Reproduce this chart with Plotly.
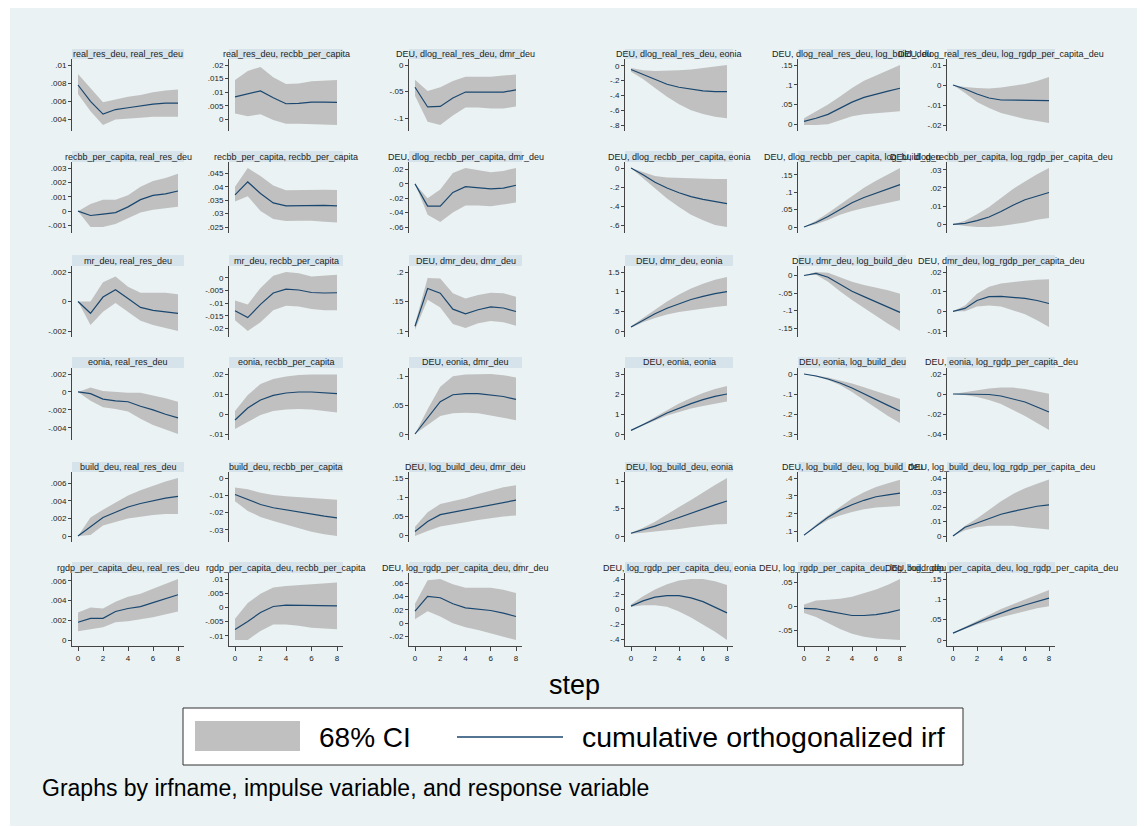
import plotly.graph_objects as go

W, H = 1145, 827
steps = [0, 1, 2, 3, 4, 5, 6, 7, 8]
x_ticks = [0, 2, 4, 6, 8]

# ---------------- panel titles (irfname, impulse, response) ----------------
titles_r1 = ["real_res_deu, real_res_deu", "real_res_deu, recbb_per_capita",
             "DEU, dlog_real_res_deu, dmr_deu", "DEU, dlog_real_res_deu, eonia",
             "DEU, dlog_real_res_deu, log_build_deu", "DEU, dlog_real_res_deu, log_rgdp_per_capita_deu"]
titles_r2 = ["recbb_per_capita, real_res_deu", "recbb_per_capita, recbb_per_capita",
             "DEU, dlog_recbb_per_capita, dmr_deu", "DEU, dlog_recbb_per_capita, eonia",
             "DEU, dlog_recbb_per_capita, log_build_deu", "DEU, dlog_recbb_per_capita, log_rgdp_per_capita_deu"]
titles_r3 = ["mr_deu, real_res_deu", "mr_deu, recbb_per_capita",
             "DEU, dmr_deu, dmr_deu", "DEU, dmr_deu, eonia",
             "DEU, dmr_deu, log_build_deu", "DEU, dmr_deu, log_rgdp_per_capita_deu"]
titles_r4 = ["eonia, real_res_deu", "eonia, recbb_per_capita",
             "DEU, eonia, dmr_deu", "DEU, eonia, eonia",
             "DEU, eonia, log_build_deu", "DEU, eonia, log_rgdp_per_capita_deu"]
titles_r5 = ["build_deu, real_res_deu", "build_deu, recbb_per_capita",
             "DEU, log_build_deu, dmr_deu", "DEU, log_build_deu, eonia",
             "DEU, log_build_deu, log_build_deu", "DEU, log_build_deu, log_rgdp_per_capita_deu"]
titles_r6 = ["rgdp_per_capita_deu, real_res_deu", "rgdp_per_capita_deu, recbb_per_capita",
             "DEU, log_rgdp_per_capita_deu, dmr_deu", "DEU, log_rgdp_per_capita_deu, eonia",
             "DEU, log_rgdp_per_capita_deu, log_build_deu", "DEU, log_rgdp_per_capita_deu, log_rgdp_per_capita_deu"]

# ---------------- cumulative orthogonalized irf with 68% CI ----------------
# row 1
irf_11 = [.0078, .0060, .0046, .0051, .0053, .0055, .0057, .0058, .0058]
lo_11 = [.0068, .0049, .0034, .0040, .0041, .0042, .0043, .0043, .0043]
hi_11 = [.0090, .0075, .0059, .0062, .0065, .0067, .0070, .0072, .0073]
yt_11 = [.004, .006, .008, .01]

irf_12 = [.0083, .0095, .0105, .0080, .0058, .0059, .0064, .0064, .0063]
lo_12 = [.0022, .0012, .0019, -.0002, -.0015, -.0015, -.0017, -.0018, -.0020]
hi_12 = [.0145, .0178, .0193, .0155, .0130, .0132, .0140, .0143, .0145]
yt_12 = [0, .005, .01, .015, .02]

irf_13 = [-.042, -.079, -.078, -.062, -.051, -.051, -.052, -.051, -.047]
lo_13 = [-.058, -.107, -.113, -.095, -.080, -.080, -.082, -.082, -.078]
hi_13 = [-.028, -.049, -.042, -.030, -.022, -.022, -.022, -.020, -.018]
yt_13 = [-.1, -.05, 0]

irf_14 = [-.05, -.12, -.19, -.25, -.29, -.32, -.34, -.35, -.35]
lo_14 = [-.08, -.18, -.30, -.42, -.52, -.60, -.65, -.69, -.71]
hi_14 = [-.03, -.06, -.07, -.07, -.06, -.05, -.03, -.01, .01]
yt_14 = [-.8, -.6, -.4, -.2, 0]

irf_15 = [.007, .015, .025, .040, .056, .068, .077, .084, .091]
lo_15 = [-.002, -.002, 0, .010, .020, .025, .028, .031, .033]
hi_15 = [.015, .032, .050, .070, .092, .110, .124, .137, .150]
yt_15 = [0, .05, .1, .15]

irf_16 = [0, -.0020, -.0045, -.0065, -.0075, -.0076, -.0077, -.0078, -.0078]
lo_16 = [0, -.0040, -.0085, -.0115, -.0140, -.0155, -.0170, -.0180, -.0190]
hi_16 = [0, -.0010, -.0015, -.0017, -.0012, -.0005, .0005, .0020, .0040]
yt_16 = [-.02, -.01, 0, .01]

# row 2
irf_21 = [0, -.0003, -.0002, -.0001, .0003, .0008, .0011, .0012, .0014]
lo_21 = [0, -.0011, -.0011, -.0009, -.0005, -.0001, .0001, .0002, .0003]
hi_21 = [0, .0005, .0008, .0008, .0011, .0017, .0021, .0023, .0026]
yt_21 = [-.001, 0, .001, .002, .003]

irf_22 = [.0370, .0418, .0375, .0340, .0329, .0330, .0332, .0331, .0329]
lo_22 = [.0345, .0365, .0310, .0280, .0272, .0273, .0273, .0270, .0267]
hi_22 = [.0400, .0470, .0440, .0405, .0387, .0388, .0389, .0389, .0388]
yt_22 = [.025, .03, .035, .04, .045]

irf_23 = [0, -.031, -.031, -.012, -.004, -.005, -.007, -.006, -.002]
lo_23 = [0, -.043, -.053, -.040, -.030, -.030, -.031, -.029, -.026]
hi_23 = [0, -.020, -.008, .015, .022, .019, .016, .018, .022]
yt_23 = [-.06, -.04, -.02, 0, .02]

irf_24 = [0, -.07, -.15, -.21, -.26, -.30, -.33, -.355, -.375]
lo_24 = [0, -.10, -.21, -.32, -.41, -.49, -.55, -.60, -.62]
hi_24 = [0, -.04, -.085, -.10, -.105, -.11, -.115, -.115, -.115]
yt_24 = [-.6, -.4, -.2, 0]

irf_25 = [0, .013, .030, .050, .070, .085, .098, .110, .122]
lo_25 = [0, .008, .020, .035, .046, .055, .062, .070, .077]
hi_25 = [0, .018, .040, .065, .090, .113, .133, .152, .170]
yt_25 = [0, .05, .1, .15]

irf_26 = [0, .0005, .0020, .0040, .0070, .0105, .0135, .0155, .0175]
lo_26 = [0, -.0010, -.0015, -.0015, -.0010, 0, .0010, .0025, .0035]
hi_26 = [0, .0020, .0055, .0095, .0145, .0195, .0235, .0275, .0310]
yt_26 = [0, .01, .02, .03]

# row 3
irf_31 = [0, -.0008, .0003, .0008, .0002, -.0004, -.0006, -.0007, -.0008]
lo_31 = [0, -.0016, -.0007, -.0001, -.0007, -.0013, -.0016, -.0018, -.0020]
hi_31 = [0, 0, .0013, .0017, .0010, .0006, .0006, .0006, .0005]
yt_31 = [-.002, 0, .002]

irf_32 = [-.0130, -.0157, -.0105, -.0060, -.0045, -.0048, -.0058, -.0060, -.0059]
lo_32 = [-.0168, -.0210, -.0175, -.0128, -.0110, -.0113, -.0123, -.0128, -.0128]
hi_32 = [-.0090, -.0105, -.0040, .0008, .0023, .0018, .0005, .0007, .0012]
yt_32 = [-.02, -.015, -.01, -.005, 0]

irf_33 = [.108, .172, .164, .137, .129, .136, .141, .139, .133]
lo_33 = [.102, .153, .140, .112, .105, .113, .117, .115, .109]
hi_33 = [.112, .190, .189, .164, .155, .161, .165, .164, .158]
yt_33 = [.1, .15, .2]

irf_34 = [.10, .28, .44, .58, .70, .80, .88, .95, 1.00]
lo_34 = [.08, .22, .33, .42, .48, .53, .57, .61, .64]
hi_34 = [.12, .33, .55, .75, .93, 1.08, 1.20, 1.30, 1.37]
yt_34 = [0, .5, 1, 1.5]

irf_35 = [0, .006, -.005, -.025, -.045, -.060, -.075, -.090, -.105]
lo_35 = [0, .002, -.018, -.045, -.070, -.093, -.115, -.137, -.158]
hi_35 = [0, .010, .008, -.005, -.018, -.027, -.034, -.042, -.052]
yt_35 = [-.15, -.1, -.05, 0]

irf_36 = [0, .0015, .0055, .0075, .0076, .0072, .0066, .0055, .0040]
lo_36 = [0, 0, .0025, .0030, .0025, .0005, -.0015, -.0045, -.0080]
hi_36 = [0, .0030, .0090, .0125, .0142, .0150, .0155, .0160, .0163]
yt_36 = [-.01, 0, .01, .02]

# row 4
irf_41 = [0, -.0002, -.0008, -.0010, -.0011, -.0016, -.0020, -.0025, -.0029]
lo_41 = [0, -.0010, -.0017, -.0019, -.0022, -.0030, -.0037, -.0042, -.0047]
hi_41 = [0, .0005, .0001, 0, -.0001, -.0001, -.0004, -.0007, -.0011]
yt_41 = [-.004, -.002, 0, .002]

irf_42 = [-.0030, .0030, .0070, .0093, .0105, .0110, .0110, .0105, .0102]
lo_42 = [-.0075, -.0040, -.0005, .0015, .0023, .0025, .0022, .0015, .0008]
hi_42 = [.0015, .0095, .0150, .0175, .0188, .0195, .0197, .0197, .0197]
yt_42 = [-.01, 0, .01, .02]

irf_43 = [0, .028, .056, .068, .070, .070, .068, .065, .060]
lo_43 = [0, .015, .031, .036, .037, .036, .033, .028, .024]
hi_43 = [0, .043, .082, .100, .103, .104, .104, .102, .098]
yt_43 = [0, .05, .1]

irf_44 = [.18, .45, .75, 1.05, 1.30, 1.52, 1.72, 1.88, 2.00]
lo_44 = [.16, .42, .68, .92, 1.10, 1.27, 1.40, 1.52, 1.62]
hi_44 = [.20, .50, .85, 1.20, 1.52, 1.80, 2.05, 2.25, 2.40]
yt_44 = [0, 1, 2, 3]

irf_45 = [0, -.010, -.025, -.045, -.070, -.100, -.128, -.157, -.185]
lo_45 = [0, -.013, -.030, -.055, -.090, -.130, -.170, -.210, -.245]
hi_45 = [0, -.007, -.018, -.032, -.048, -.066, -.085, -.105, -.125]
yt_45 = [-.3, -.2, -.1, 0]

irf_46 = [0, 0, 0, -.0005, -.0020, -.0050, -.0080, -.0130, -.0180]
lo_46 = [0, -.0010, -.0030, -.0060, -.0100, -.0160, -.0220, -.0290, -.0360]
hi_46 = [0, .0020, .0040, .0055, .0065, .0065, .0050, .0025, .0002]
yt_46 = [-.04, -.02, 0, .02]

# row 5
irf_51 = [0, .0011, .0021, .0027, .0033, .0037, .0040, .0043, .0045]
lo_51 = [0, .0001, .0012, .0016, .0020, .0022, .0024, .0025, .0025]
hi_51 = [0, .0021, .0030, .0038, .0046, .0052, .0057, .0062, .0066]
yt_51 = [0, .002, .004, .006]

irf_52 = [-.0095, -.0125, -.0153, -.0172, -.0185, -.0198, -.0210, -.0220, -.0230]
lo_52 = [-.0135, -.0190, -.0225, -.0248, -.0270, -.0290, -.0310, -.0325, -.0335]
hi_52 = [-.0055, -.0065, -.0085, -.0098, -.0105, -.0110, -.0115, -.0120, -.0125]
yt_52 = [-.03, -.02, -.01, 0]

irf_53 = [.010, .036, .054, .060, .066, .074, .080, .086, .092]
lo_53 = [-.002, .011, .023, .029, .034, .040, .045, .049, .052]
hi_53 = [.022, .060, .082, .090, .097, .108, .118, .126, .131]
yt_53 = [0, .05, .1, .15]

irf_54 = [.05, .11, .18, .26, .34, .42, .50, .57, .64]
lo_54 = [.04, .06, .08, .10, .13, .16, .19, .21, .22]
hi_54 = [.06, .15, .26, .40, .53, .66, .80, .93, 1.06]
yt_54 = [0, .5, 1]

irf_55 = [.080, .130, .180, .220, .250, .275, .295, .305, .315]
lo_55 = [.075, .125, .165, .190, .210, .225, .235, .240, .243]
hi_55 = [.080, .140, .190, .240, .285, .320, .350, .370, .390]
yt_55 = [.1, .2, .3, .4]

irf_56 = [0, .0060, .0090, .0120, .0150, .0170, .0190, .0205, .0215]
lo_56 = [0, .0040, .0060, .0070, .0072, .0070, .0060, .0050, .0045]
hi_56 = [0, .0070, .0120, .0180, .0240, .0290, .0330, .0360, .0390]
yt_56 = [0, .01, .02, .03, .04]

# row 6
irf_61 = [.0018, .0022, .0022, .0029, .0032, .0034, .0038, .0042, .0046]
lo_61 = [.0009, .0011, .0013, .0018, .0019, .0021, .0023, .0026, .0029]
hi_61 = [.0028, .0033, .0032, .0039, .0044, .0047, .0052, .0057, .0062]
yt_61 = [0, .002, .004, .006]

irf_62 = [-.0078, -.0050, -.0018, .0003, .0008, .0007, .0005, .0005, .0005]
lo_62 = [-.0115, -.0115, -.0083, -.0060, -.0060, -.0065, -.0072, -.0075, -.0077]
hi_62 = [-.0040, .0015, .0048, .0070, .0075, .0078, .0082, .0085, .0088]
yt_62 = [-.01, -.005, 0, .005, .01]

irf_63 = [.018, .040, .038, .029, .023, .021, .019, .015, .010]
lo_63 = [.006, .018, .010, 0, -.006, -.010, -.014, -.020, -.025]
hi_63 = [.029, .064, .066, .058, .053, .053, .053, .050, .045]
yt_63 = [-.02, 0, .02, .04, .06]

irf_64 = [.04, .11, .16, .18, .18, .15, .10, .03, -.05]
lo_64 = [.03, .05, .05, .03, -.03, -.11, -.20, -.30, -.41]
hi_64 = [.06, .17, .26, .33, .38, .40, .40, .37, .32]
yt_64 = [-.4, -.2, 0, .2, .4]

irf_65 = [-.004, -.005, -.010, -.015, -.019, -.019, -.017, -.013, -.007]
lo_65 = [-.014, -.022, -.035, -.047, -.057, -.063, -.067, -.069, -.070]
hi_65 = [.004, .012, .014, .016, .020, .027, .035, .045, .057]
yt_65 = [-.05, 0, .05]

irf_66 = [.017, .030, .043, .055, .066, .077, .086, .095, .103]
lo_66 = [.016, .027, .038, .047, .056, .064, .071, .078, .083]
hi_66 = [.018, .033, .048, .062, .076, .088, .100, .112, .123]
yt_66 = [0, .05, .1, .15]

titles = [titles_r1, titles_r2, titles_r3, titles_r4, titles_r5, titles_r6]
g = globals()
panels = [[(g[f"irf_{r}{c}"], g[f"lo_{r}{c}"], g[f"hi_{r}{c}"], g[f"yt_{r}{c}"])
           for c in range(1, 7)] for r in range(1, 7)]

# ---------------- layout geometry (pixels) ----------------
col_left = [72, 229, 409, 625, 798, 947]
col_right = [184, 343, 522, 733, 906, 1055]
strip_top = [49, 151, 255, 357, 462, 562]
plot_top = [59, 162, 266, 368, 472, 573]
plot_bottom = [131, 233, 337, 440, 542, 646]
PAD = 6

BG = "#EAF2F3"
STRIP = "#D6E3EA"
BAND = "#C0C0C0"
NAVY = "#1A476F"
FONT = "Arial, Liberation Sans, sans-serif"


def px(x):
    return x / W


def py(y):
    return 1 - y / H


def fmt(v):
    if v == 0:
        return "0"
    s = f"{v:g}"
    s = s.replace("0.", ".")
    return s


fig = go.Figure()
shapes = [dict(type="rect", xref="paper", yref="paper", x0=px(10), x1=px(1137),
               y0=py(826), y1=py(8), fillcolor=BG, line=dict(width=0), layer="below")]
annotations = []
layout_axes = {}

n = 0
for r in range(6):
    for c in range(6):
        n += 1
        irf, lo, hi, yt = panels[r][c]
        xa = "x" if n == 1 else f"x{n}"
        ya = "y" if n == 1 else f"y{n}"
        fig.add_trace(go.Scatter(
            x=steps + steps[::-1], y=hi + lo[::-1], xaxis=xa, yaxis=ya,
            fill="toself", fillcolor=BAND, line=dict(width=0), mode="lines",
            hoverinfo="skip", showlegend=False))
        fig.add_trace(go.Scatter(
            x=steps, y=irf, xaxis=xa, yaxis=ya, mode="lines",
            line=dict(color=NAVY, width=1.2), showlegend=False))

        x0, x1 = col_left[c], col_right[c]
        yt_px, yb_px = plot_top[r], plot_bottom[r]
        wpx = x1 - x0
        hpx = yb_px - yt_px
        xs = 8 / (wpx - 2 * PAD)
        vmin = min(min(lo), min(yt))
        vmax = max(max(hi), max(yt))
        ys = (vmax - vmin) / (hpx - 2 * PAD)
        bottom = r == 5

        layout_axes["xaxis" if n == 1 else f"xaxis{n}"] = dict(
            domain=[px(x0), px(x1)], anchor=ya, range=[-PAD * xs, 8 + PAD * xs],
            showgrid=False, zeroline=False, showline=bottom, linecolor="#444",
            linewidth=1, ticks="outside" if bottom else "", ticklen=4, tickcolor="#444",
            tickvals=x_ticks, showticklabels=bottom,
            tickfont=dict(size=8, color="#222", family=FONT))
        layout_axes["yaxis" if n == 1 else f"yaxis{n}"] = dict(
            domain=[py(yb_px), py(yt_px)], anchor=xa,
            range=[vmin - PAD * ys, vmax + PAD * ys],
            tickvals=yt, ticktext=[fmt(v) for v in yt],
            showgrid=True, gridcolor=BG, gridwidth=1, zeroline=False,
            showline=True, linecolor="#444", linewidth=1, ticks="outside",
            ticklen=3, tickcolor="#444", tickfont=dict(size=8, color="#222", family=FONT))

        # title strip above each plot region
        shapes.append(dict(type="rect", xref="paper", yref="paper",
                           x0=px(x0), x1=px(x1), y0=py(yt_px), y1=py(strip_top[r]),
                           fillcolor=STRIP, line=dict(width=0), layer="below"))
        annotations.append(dict(text=titles[r][c], xref="paper", yref="paper",
                                x=px((x0 + x1) / 2), y=py((strip_top[r] + yt_px) / 2),
                                xanchor="center", yanchor="middle", showarrow=False,
                                font=dict(size=9, color="#222", family=FONT)))

# x axis title
annotations.append(dict(text="step", xref="paper", yref="paper", x=px(575), y=py(685),
                        xanchor="center", yanchor="middle", showarrow=False,
                        font=dict(size=27, color="#000", family=FONT)))

# legend box
shapes.append(dict(type="rect", xref="paper", yref="paper", x0=px(183), x1=px(963),
                   y0=py(765), y1=py(708), fillcolor="white",
                   line=dict(color="#333", width=1)))
shapes.append(dict(type="rect", xref="paper", yref="paper", x0=px(195), x1=px(300),
                   y0=py(751), y1=py(721), fillcolor=BAND, line=dict(width=0)))
shapes.append(dict(type="line", xref="paper", yref="paper", x0=px(457), x1=px(563),
                   y0=py(737), y1=py(737), line=dict(color=NAVY, width=1.6)))
annotations.append(dict(text="68% CI", xref="paper", yref="paper", x=px(317), y=py(737),
                        xanchor="left", yanchor="middle", showarrow=False,
                        font=dict(size=28, color="#000", family=FONT)))
annotations.append(dict(text="cumulative orthogonalized irf", xref="paper", yref="paper",
                        x=px(580), y=py(737), xanchor="left", yanchor="middle",
                        showarrow=False, font=dict(size=28.5, color="#000", family=FONT)))

# note
annotations.append(dict(text="Graphs by irfname, impulse variable, and response variable",
                        xref="paper", yref="paper", x=px(40), y=py(788),
                        xanchor="left", yanchor="middle", showarrow=False,
                        font=dict(size=23, color="#000", family=FONT)))

fig.update_layout(
    width=W, height=H, margin=dict(l=0, r=0, t=0, b=0),
    paper_bgcolor="white", plot_bgcolor="white",
    font=dict(family=FONT), showlegend=False,
    shapes=shapes, annotations=annotations, **layout_axes)

fig.write_html("out.html")
